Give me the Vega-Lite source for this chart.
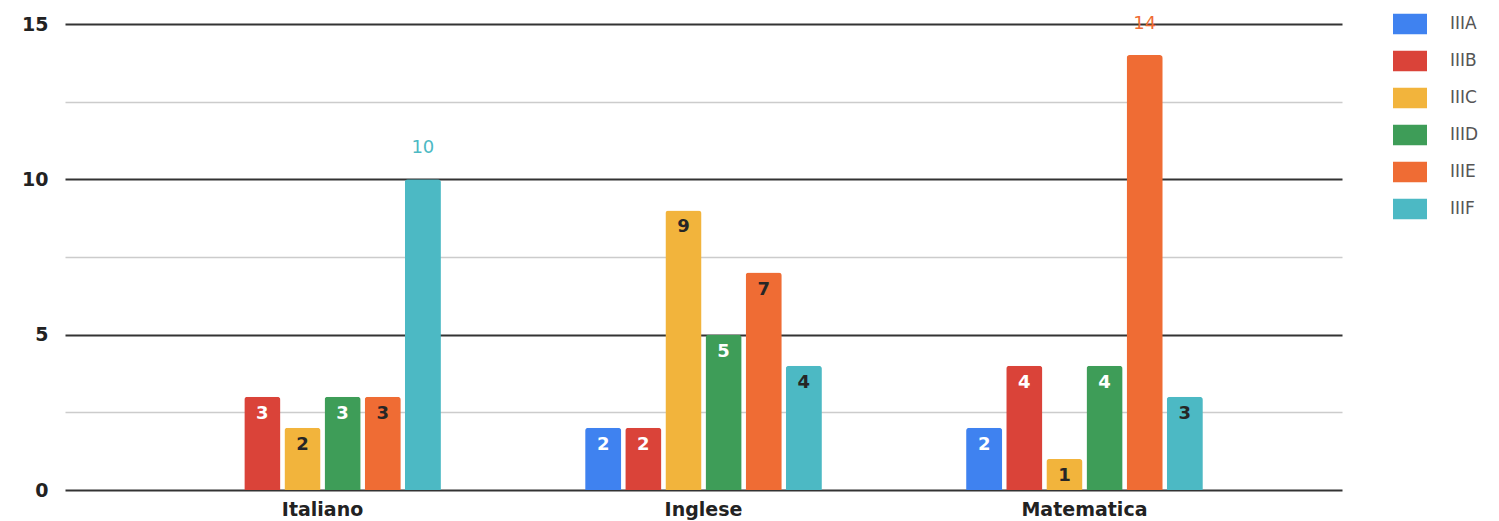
{
  "$schema": "https://vega.github.io/schema/vega-lite/v6.json",
  "width": 1277,
  "height": 466,
  "autosize": {"type": "none"},
  "padding": {"left": 65, "top": 24, "right": 157, "bottom": 31},
  "background": "white",
  "config": {"view": {"stroke": null}, "font": "DejaVu Sans"},
  "data": {
    "values": [
      {"subject": "Italiano", "series": "IIIA", "value": 0},
      {"subject": "Italiano", "series": "IIIB", "value": 3},
      {"subject": "Italiano", "series": "IIIC", "value": 2},
      {"subject": "Italiano", "series": "IIID", "value": 3},
      {"subject": "Italiano", "series": "IIIE", "value": 3},
      {"subject": "Italiano", "series": "IIIF", "value": 10},
      {"subject": "Inglese", "series": "IIIA", "value": 2},
      {"subject": "Inglese", "series": "IIIB", "value": 2},
      {"subject": "Inglese", "series": "IIIC", "value": 9},
      {"subject": "Inglese", "series": "IIID", "value": 5},
      {"subject": "Inglese", "series": "IIIE", "value": 7},
      {"subject": "Inglese", "series": "IIIF", "value": 4},
      {"subject": "Matematica", "series": "IIIA", "value": 2},
      {"subject": "Matematica", "series": "IIIB", "value": 4},
      {"subject": "Matematica", "series": "IIIC", "value": 1},
      {"subject": "Matematica", "series": "IIID", "value": 4},
      {"subject": "Matematica", "series": "IIIE", "value": 14},
      {"subject": "Matematica", "series": "IIIF", "value": 3}
    ]
  },
  "transform": [{"filter": "datum.value > 0"}],
  "encoding": {
    "x": {
      "field": "subject",
      "type": "nominal",
      "sort": ["Italiano", "Inglese", "Matematica"],
      "scale": {"paddingInner": 0.368, "paddingOuter": 0.36},
      "axis": {
        "title": null,
        "domain": false,
        "ticks": false,
        "grid": false,
        "labelAngle": 0,
        "labelFont": "DejaVu Sans",
        "labelFontWeight": "bold",
        "labelFontSize": 19,
        "labelColor": "#222222",
        "labelPadding": 10
      }
    },
    "xOffset": {
      "field": "series",
      "type": "nominal",
      "scale": {
        "domain": ["IIIA", "IIIB", "IIIC", "IIID", "IIIE", "IIIF"],
        "paddingInner": 0.1,
        "paddingOuter": 0.05
      }
    },
    "y": {
      "field": "value",
      "type": "quantitative",
      "scale": {"domain": [0, 15], "nice": false},
      "axis": {
        "title": null,
        "values": [0, 2.5, 5, 7.5, 10, 12.5, 15],
        "labelExpr": "datum.value % 5 === 0 ? datum.label : ''",
        "domain": false,
        "ticks": false,
        "grid": true,
        "gridColor": {"condition": {"test": "datum.value % 5 === 0", "value": "#333333"}, "value": "#cccccc"},
        "gridWidth": {"condition": {"test": "datum.value % 5 === 0", "value": 2}, "value": 1.5},
        "labelFont": "DejaVu Sans",
        "labelFontWeight": "bold",
        "labelFontSize": 19,
        "labelColor": "#222222",
        "labelPadding": 17
      }
    }
  },
  "layer": [
    {
      "mark": {"type": "bar", "cornerRadiusTopLeft": 3, "cornerRadiusTopRight": 3},
      "encoding": {
        "color": {
          "field": "series",
          "type": "nominal",
          "scale": {
            "domain": ["IIIA", "IIIB", "IIIC", "IIID", "IIIE", "IIIF"],
            "range": ["#3F82F0", "#DA4339", "#F2B43C", "#3E9D58", "#EF6C34", "#4CB9C4"]
          },
          "legend": {
            "title": null,
            "orient": "none",
            "legendX": 1328,
            "legendY": -17,
            "padding": 0,
            "symbolType": "M-1,-0.6H1V0.6H-1Z",
            "symbolSize": 1156,
            "symbolStrokeWidth": 0,
            "symbolOpacity": 1,
            "labelFont": "DejaVu Sans",
            "labelFontSize": 17,
            "labelColor": "#555555",
            "labelOffset": 23,
            "rowPadding": 9
          }
        }
      }
    },
    {
      "transform": [{"filter": "datum.value < 10"}],
      "mark": {"type": "text", "baseline": "middle", "align": "center", "dy": 17, "fontSize": 18, "fontWeight": "bold", "font": "DejaVu Sans"},
      "encoding": {
        "text": {"field": "value", "type": "quantitative"},
        "color": {
          "condition": {"test": "indexof(['IIIA','IIIB','IIID'], datum.series) >= 0", "value": "#ffffff"},
          "value": "#262626"
        }
      }
    },
    {
      "transform": [{"filter": "datum.value >= 10"}],
      "mark": {"type": "text", "baseline": "middle", "align": "center", "dy": -31, "fontSize": 18, "font": "DejaVu Sans"},
      "encoding": {
        "text": {"field": "value", "type": "quantitative"},
        "color": {
          "condition": {"test": "datum.series === 'IIIF'", "value": "#4CB9C4"},
          "value": "#EF6C34"
        }
      }
    }
  ]
}
